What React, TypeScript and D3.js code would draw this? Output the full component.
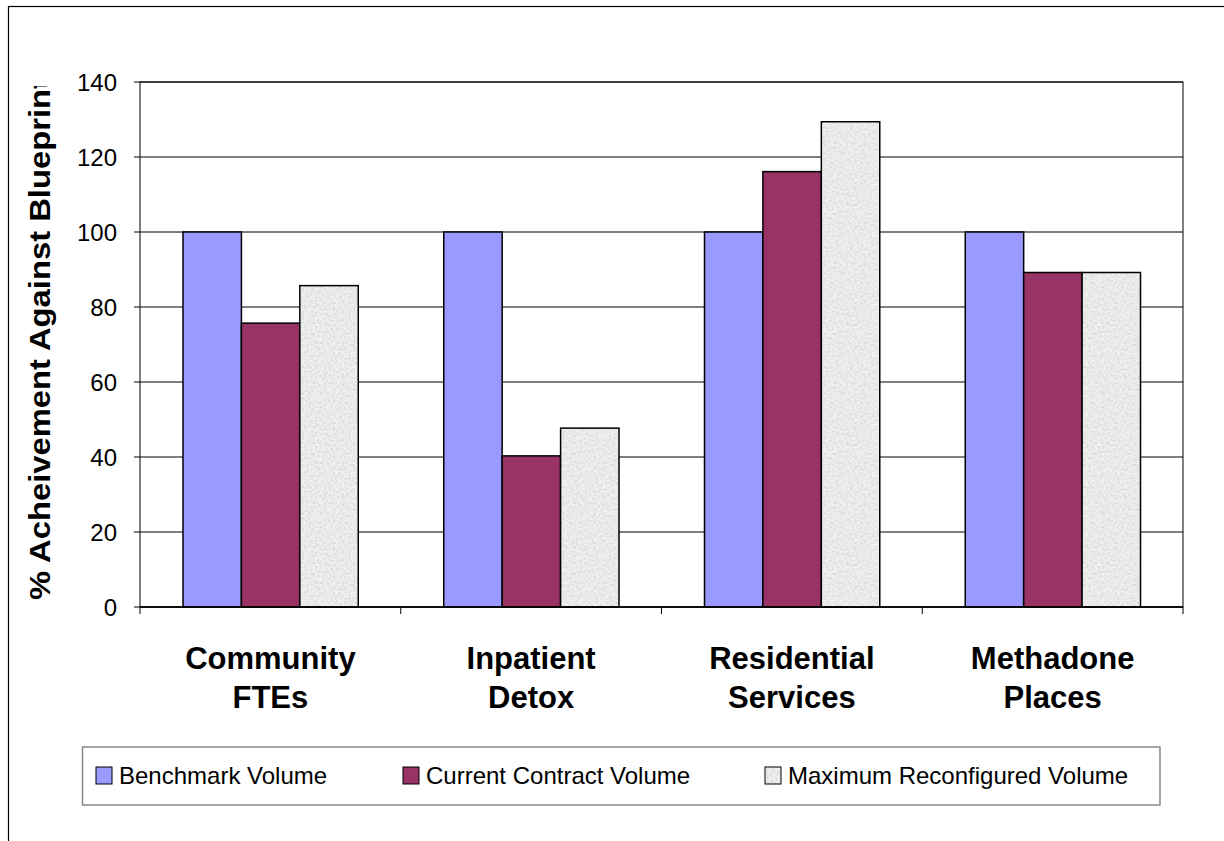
import React from "react";
import * as d3 from "d3";

const categories = [["Community", "FTEs"], ["Inpatient", "Detox"], ["Residential", "Services"], ["Methadone", "Places"]];
const seriesNames = ["Benchmark Volume", "Current Contract Volume", "Maximum Reconfigured Volume"];
const benchmark = [100, 100, 100, 100];
const current = [75.7, 40.3, 116.1, 89.2];
const maxReconf = [85.7, 47.7, 129.4, 89.2];
const yTicks = [0, 20, 40, 60, 80, 100, 120, 140];
const colors = ["#9999FF", "#993366", "url(#noisePat)"];

export default function App() {
  const W = 1224, H = 841;
  const left = 140, right = 1183, top = 82, bottom = 607;
  const series = [benchmark, current, maxReconf];
  const x0 = d3.scaleBand<number>().domain(d3.range(categories.length)).range([left, right]).paddingInner(0).paddingOuter(0);
  const x1 = d3.scaleBand<number>().domain([0, 1, 2]).range([43, x0.bandwidth() - 42.5]).padding(0);
  const y = d3.scaleLinear().domain([0, 140]).range([bottom, top]);
  const font = "Arial, 'Liberation Sans', sans-serif";
  const legendItems = [
    { x: 96, label: seriesNames[0], fill: colors[0] },
    { x: 403, label: seriesNames[1], fill: colors[1] },
    { x: 765, label: seriesNames[2], fill: colors[2] },
  ];
  return (
    <svg width={W} height={H} style={{ position: "absolute", left: 0, top: 0, background: "#fff" }} fontFamily={font}>
      <defs>
        <filter id="noiseF" x="0" y="0" width="100%" height="100%">
          <feTurbulence type="fractalNoise" baseFrequency="0.45" numOctaves="2" seed="3" result="t" />
          <feColorMatrix in="t" type="matrix" values="0 0 0 0 0.68  0 0 0 0 0.68  0 0 0 0 0.68  0 0 0 -2.6 1.55" result="n" />
          <feComposite in="n" in2="SourceGraphic" operator="in" result="c" />
          <feMerge>
            <feMergeNode in="SourceGraphic" />
            <feMergeNode in="c" />
          </feMerge>
        </filter>
        <pattern id="noisePat" patternUnits="userSpaceOnUse" width="120" height="120">
          <rect width="120" height="120" fill="#f0f0f0" filter="url(#noiseF)" />
        </pattern>
        <clipPath id="titleClip">
          <rect x={0} y={86} width={120} height={600} />
        </clipPath>
      </defs>
      <rect x={8.5} y={6.5} width={1400} height={1000} fill="none" stroke="#000" strokeWidth={1.2} />
      {/* gridlines */}
      {yTicks.map((t) => (
        <g key={t}>
          <line x1={left - 6} x2={right} y1={y(t)} y2={y(t)} stroke="#000" strokeWidth={1} />
          <text x={117} y={y(t)} dy="0.36em" textAnchor="end" fontSize={24}>{t}</text>
        </g>
      ))}
      <rect x={left} y={top} width={right - left} height={bottom - top} fill="none" stroke="#000" strokeWidth={1} />
      {/* bars */}
      {categories.map((c, i) => (
        <g key={i} transform={`translate(${x0(i)},0)`}>
          {series.map((s, j) => (
            <rect key={j} x={x1(j)} y={y(s[i])} width={x1.bandwidth()} height={y(0) - y(s[i])}
              fill={colors[j]} stroke="#000" strokeWidth={1.5} />
          ))}
        </g>
      ))}
      {/* x axis */}
      <line x1={left} x2={right} y1={bottom} y2={bottom} stroke="#000" strokeWidth={1.5} />
      {d3.range(categories.length + 1).map((i) => {
        const xx = left + i * x0.bandwidth();
        return <line key={i} x1={xx} x2={xx} y1={bottom} y2={bottom + 7} stroke="#000" strokeWidth={1} />;
      })}
      {categories.map((c, i) => (
        <text key={i} x={(x0(i) as number) + x0.bandwidth() / 2} textAnchor="middle" fontSize={31} fontWeight="bold">
          <tspan x={(x0(i) as number) + x0.bandwidth() / 2} y={669}>{c[0]}</tspan>
          <tspan x={(x0(i) as number) + x0.bandwidth() / 2} y={708}>{c[1]}</tspan>
        </text>
      ))}
      {/* y title */}
      <g clipPath="url(#titleClip)">
        <text transform="translate(50,600) rotate(-90)" fontSize={30} fontWeight="bold" textAnchor="start"
          textLength={522} lengthAdjust="spacingAndGlyphs">% Acheivement Against Blueprint</text>
      </g>
      {/* legend */}
      <rect x={82.5} y={747} width={1077.5} height={58} fill="#fff" stroke="#888" strokeWidth={1.5} />
      {legendItems.map((l, i) => (
        <g key={i}>
          <rect x={l.x} y={767} width={16} height={17} fill={l.fill} stroke="#000" strokeWidth={1} />
          <text x={l.x + 23} y={775} dy="0.36em" fontSize={24}>{l.label}</text>
        </g>
      ))}
    </svg>
  );
}
